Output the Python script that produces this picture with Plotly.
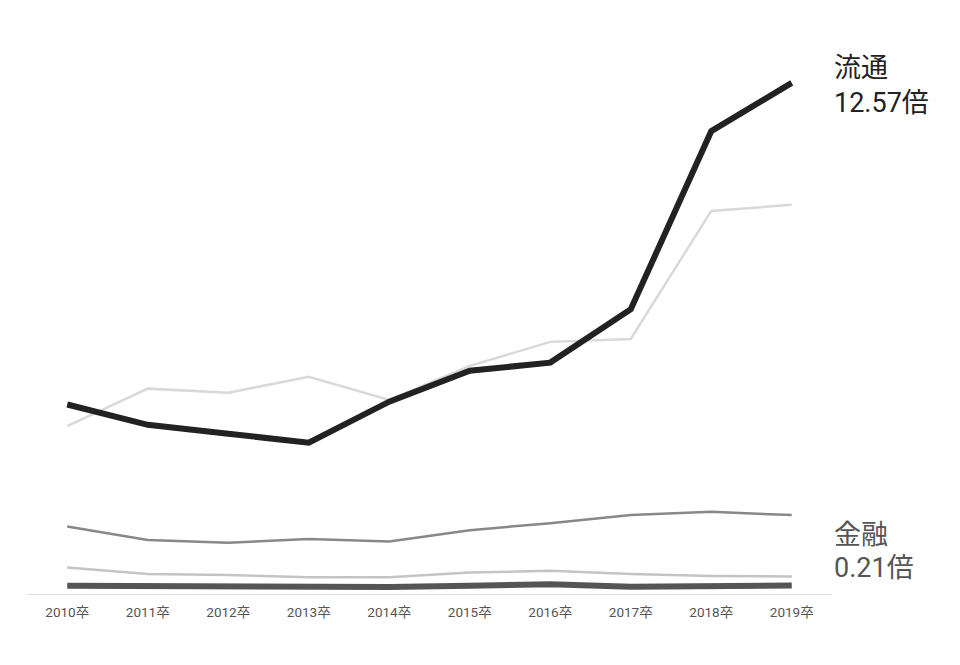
import plotly.graph_objects as go

years = ["2010卒", "2011卒", "2012卒", "2013卒", "2014卒", "2015卒", "2016卒", "2017卒", "2018卒", "2019卒"]

ryutsu = [4.66, 4.16, 3.94, 3.72, 4.73, 5.49, 5.69, 7.00, 11.38, 12.57]
series_light = [4.13, 5.05, 4.95, 5.34, 4.77, 5.61, 6.20, 6.27, 9.42, 9.57]
series_mid = [1.66, 1.33, 1.26, 1.35, 1.29, 1.57, 1.74, 1.94, 2.02, 1.94]
series_low = [0.65, 0.49, 0.47, 0.41, 0.41, 0.53, 0.57, 0.49, 0.44, 0.43]
kinyu = [0.20, 0.19, 0.17, 0.17, 0.17, 0.20, 0.24, 0.18, 0.18, 0.21]

FONT = "Roboto, 'Noto Sans CJK JP', sans-serif"

fig = go.Figure()
fig.add_trace(go.Scatter(x=years, y=series_light, mode="lines",
                         line=dict(color="#d9d9d9", width=2.5), hoverinfo="skip"))
fig.add_trace(go.Scatter(x=years, y=series_mid, mode="lines",
                         line=dict(color="#888888", width=2.5), hoverinfo="skip"))
fig.add_trace(go.Scatter(x=years, y=series_low, mode="lines",
                         line=dict(color="#c4c4c4", width=2.5), hoverinfo="skip"))
fig.add_trace(go.Scatter(x=years, y=kinyu, mode="lines",
                         line=dict(color="#555555", width=6), hoverinfo="skip"))
fig.add_trace(go.Scatter(x=years, y=ryutsu, mode="lines",
                         line=dict(color="#222222", width=6), hoverinfo="skip"))

annos = [
    dict(text="流通", y=12.94, color="#222222"),
    dict(text="12.57倍", y=12.08, color="#222222"),
    dict(text="金融", y=1.45, color="#555555"),
    dict(text="0.21倍", y=0.64, color="#555555"),
]
for a in annos:
    fig.add_annotation(x=1.0, xref="paper", y=a["y"], yref="y", text=a["text"],
                       showarrow=False, xanchor="left", yanchor="middle",
                       font=dict(family=FONT, size=27, color=a["color"]))

fig.update_layout(
    width=960, height=665,
    margin=dict(l=19, r=136, t=37, b=79),
    paper_bgcolor="white", plot_bgcolor="white",
    showlegend=False,
    xaxis=dict(range=[-0.5, 9.5], showgrid=False, zeroline=False,
               showline=True, linecolor="#dddddd", linewidth=1,
               ticks="", ticklabelstandoff=6,
               tickfont=dict(family=FONT, size=13.5, color="#555555"),
               fixedrange=True),
    yaxis=dict(range=[0, 13.5], showgrid=False, zeroline=False,
               showticklabels=False, showline=False, fixedrange=True),
)

fig.write_html("out.html")
